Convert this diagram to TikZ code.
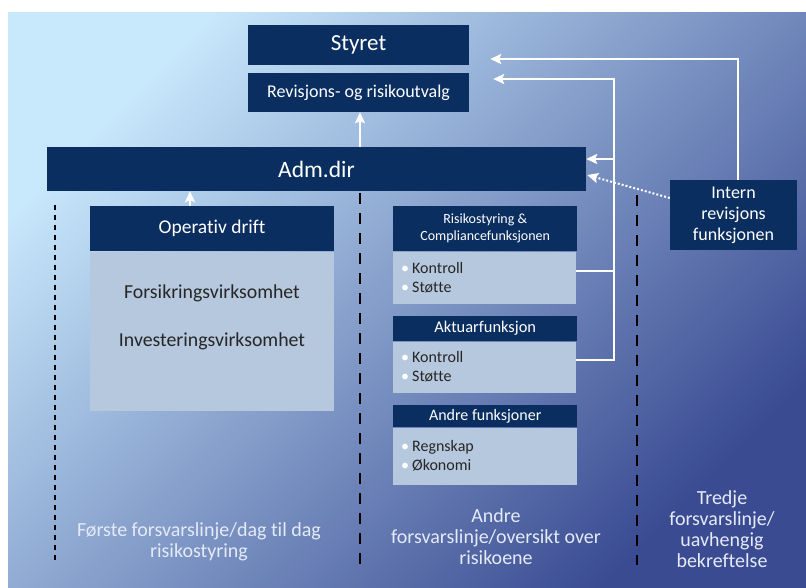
\documentclass[tikz,border=0pt]{standalone}
\usepackage{fontspec}
\setmainfont{Carlito}[Ligatures=NoCommon]
\usetikzlibrary{arrows.meta}

\definecolor{marine}{RGB}{11,46,96}
\definecolor{clair}{RGB}{182,200,222}
\definecolor{fondA}{RGB}{200,232,252}
\definecolor{fondB}{RGB}{163,190,221}
\definecolor{fondC}{RGB}{58,75,146}
\definecolor{texteBas}{RGB}{228,234,246}

\newcommand\puce{{\color{white}\textbullet}\hspace{3pt}}

\begin{document}
\begin{tikzpicture}[x=1pt,y=-1pt,
    entete/.style={fill=marine,text=white,inner sep=0pt,align=center},
    corps/.style={fill=clair,text=black!85,inner sep=0pt},
    liste/.style={corps,anchor=north west,inner xsep=8pt,align=left,font=\fontsize{16}{19}\selectfont},
    fleche/.style={draw=white,line width=2pt,-{Stealth[length=11pt,width=10pt,inset=2pt]}},
    trait/.style={draw=white,line width=2pt},
    pointille/.style={draw=white,line width=2pt,dotted,-{Stealth[length=11pt,width=10pt,inset=2pt]}},
    tirets/.style={line width=2.6pt,dash pattern=on 11pt off 9pt},
    bas/.style={text=texteBas,align=center,font=\fontsize{20}{21}\selectfont}]

\useasboundingbox (0,0) rectangle (806,587);

% fond en degrade
\shade[shading=axis,top color=fondA,middle color=fondB,bottom color=fondC,shading angle=45] (8,12) rectangle (806,587);

% boites du haut
\node[entete,minimum width=221pt,minimum height=40pt,font=\fontsize{23}{27}\selectfont] (styret) at (358.5,45) {Styret};
\node[entete,minimum width=221pt,minimum height=39pt,font=\fontsize{18}{22}\selectfont] (revisjon) at (358.5,92.5) {Revisjons- og risikoutvalg};
\node[entete,minimum width=539pt,minimum height=44pt,font=\fontsize{23.5}{27}\selectfont] (adm) at (316.5,169) {Adm.dir};

% premiere ligne
\node[entete,minimum width=244pt,minimum height=45pt,anchor=north,font=\fontsize{19.5}{23}\selectfont] (ophdr) at (212,206) {Operativ drift};
\node[corps,minimum width=244pt,minimum height=159pt,anchor=north] (opcorps) at (ophdr.south) {};
\node[text=black!85,align=center,font=\fontsize{19.8}{48}\selectfont] (opvirk) at ([yshift=14pt]opcorps.center) {Forsikringsvirksomhet\\Investeringsvirksomhet};

% deuxieme ligne
\node[entete,minimum width=184pt,minimum height=45pt,anchor=north west,font=\fontsize{14}{17}\selectfont] (rishdr) at (393,206) {Risikostyring \&\\Compliancefunksjonen};
\node[liste,minimum width=183pt,minimum height=52pt,text width=167pt] (riscorps) at (rishdr.south west) {\puce Kontroll\\\puce Støtte};

\node[entete,minimum width=184pt,minimum height=25pt,anchor=north west,font=\fontsize{16.4}{20}\selectfont] (akthdr) at (393,316) {Aktuarfunksjon};
\node[liste,minimum width=183pt,minimum height=51pt,text width=167pt] (aktcorps) at (akthdr.south west) {\puce Kontroll\\\puce Støtte};

\node[entete,minimum width=184pt,minimum height=22pt,anchor=north west,font=\fontsize{16}{20}\selectfont] (andhdr) at (393,405) {Andre funksjoner};
\node[liste,minimum width=184pt,minimum height=57pt,text width=168pt] (andcorps) at (andhdr.south west) {\puce Regnskap\\\puce Økonomi};

% troisieme ligne
\node[entete,minimum width=127pt,minimum height=70pt,font=\fontsize{18}{21}\selectfont] (intern) at (733.5,215) {Intern\\revisjons\\funksjonen};

% fleches
\draw[fleche] ([xshift=1.5pt]revisjon.south |- adm.north) -- ([xshift=1.5pt]revisjon.south);
\draw[fleche] ([xshift=-22pt]ophdr.north) -- ([xshift=-22pt]ophdr.north |- adm.south);
\draw[fleche] ([xshift=4.5pt]intern.north) |- ([xshift=21pt,yshift=-14pt]styret.east);

\coordinate (bus) at (614,79);
\coordinate (admin) at ([yshift=10pt]adm.east);
\draw[fleche] ([yshift=7.5pt]aktcorps.east) -| (bus) -- ([xshift=24pt,yshift=13.5pt]revisjon.east);
\draw[trait] ([yshift=7pt]riscorps.east) -- ++(38,0);
\draw[fleche] (bus |- admin) -- (admin);
\draw[pointille] ([yshift=17pt]intern.west) -- ([xshift=1pt,yshift=-6pt]adm.east);

% lignes de separation
\draw[line width=2pt,dash pattern=on 5pt off 5pt] (55,205) -- (55,560);
\draw[tirets] (360,193) -- (360,568);
\draw[tirets] (637,195) -- (637,565);

% textes du bas
\node[bas] (premiere) at (199,541.5) {Første forsvarslinje/dag til dag\\risikostyring};
\node[bas] (andre) at (496,536.5) {Andre\\forsvarslinje/oversikt over\\risikoene};
\node[bas] (tredje) at (722,529) {Tredje\\forsvarslinje/\\uavhengig\\bekreftelse};

\end{tikzpicture}
\end{document}
